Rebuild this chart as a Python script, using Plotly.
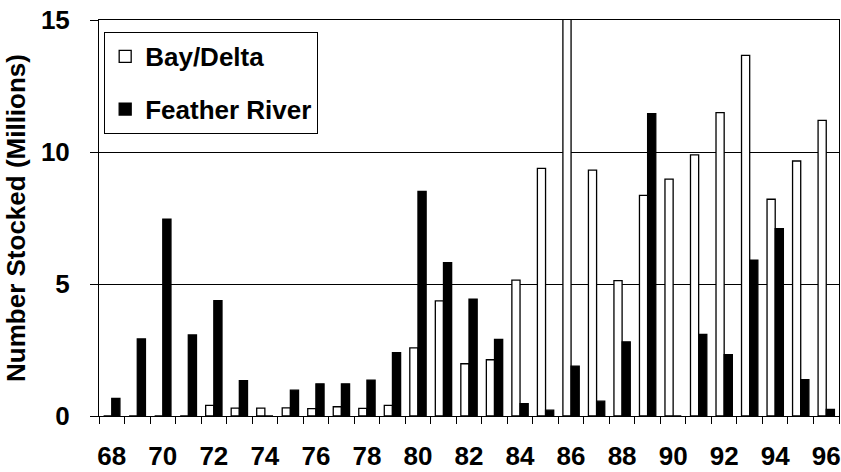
import plotly.graph_objects as go

years = ["68", "69", "70", "71", "72", "73", "74", "75", "76", "77", "78", "79", "80", "81", "82",
         "83", "84", "85", "86", "87", "88", "89", "90", "91", "92", "93", "94", "95", "96"]
tick_labels = [y if int(y) % 2 == 0 else "" for y in years]

bay_delta = [0, 0, 0, 0, 0.40, 0.30, 0.30, 0.31, 0.28, 0.35, 0.29, 0.40, 2.58, 4.36, 1.98,
             2.13, 5.15, 9.38, 16.5, 9.31, 5.13, 8.36, 8.97, 9.89, 11.49, 13.66, 8.21, 9.66, 11.2]
feather_river = [0.67, 2.92, 7.46, 3.07, 4.37, 1.34, 0, 0.98, 1.22, 1.22, 1.36, 2.40, 8.51, 5.81, 4.43,
                 2.90, 0.47, 0.22, 1.89, 0.56, 2.81, 11.45, 0, 3.09, 2.32, 5.90, 7.10, 1.38, 0.25]

FONT = "Liberation Sans, Arial, sans-serif"

fig = go.Figure()
fig.add_trace(go.Bar(
    x=years, y=bay_delta, name="Bay/Delta", legendgroup="a",
    marker=dict(color="white", line=dict(color="black", width=1.3)),
))
fig.add_trace(go.Bar(
    x=years, y=feather_river, name="Feather River", legendgroup="b",
    marker=dict(color="black", line=dict(color="black", width=1.3)),
))

fig.update_layout(
    width=841, height=472,
    margin=dict(l=99, r=2, t=20, b=56, autoexpand=False),
    paper_bgcolor="white", plot_bgcolor="white",
    barmode="group", bargap=0.36, bargroupgap=0,
    font=dict(family=FONT, size=26, color="black", weight="bold"),
    showlegend=True,
    legend=dict(
        x=0.007, y=0.97, xanchor="left", yanchor="top",
        bordercolor="black", borderwidth=1, bgcolor="white",
        traceorder="grouped", tracegroupgap=16,
        font=dict(family=FONT, size=26, color="black", weight="bold"),
    ),
    xaxis=dict(
        type="category", tickmode="array", tickvals=years, ticktext=tick_labels,
        tickson="boundaries", ticks="outside", ticklen=7, tickcolor="black",
        showline=True, linecolor="black", linewidth=1, mirror=True,
        showgrid=False, ticklabelstandoff=17, tickangle=0, automargin=False,
        tickfont=dict(family=FONT, size=26, color="black", weight="bold"),
    ),
    yaxis=dict(
        range=[0, 15], tickmode="array", tickvals=[0, 5, 10, 15],
        ticks="outside", ticklen=8, tickcolor="black",
        showline=True, linecolor="black", linewidth=1, mirror=True,
        showgrid=True, gridcolor="black", gridwidth=1, zeroline=False,
        ticklabelstandoff=15, automargin=False,
        tickfont=dict(family=FONT, size=26, color="black", weight="bold"),
        title=dict(text="Number Stocked (Millions)", standoff=7,
                   font=dict(family=FONT, size=26, color="black", weight="bold")),
    ),
)

fig.write_html(
    "out.html",
    config={"displayModeBar": False},
    post_script="document.body.style.margin='0';document.body.style.overflow='hidden';",
)
